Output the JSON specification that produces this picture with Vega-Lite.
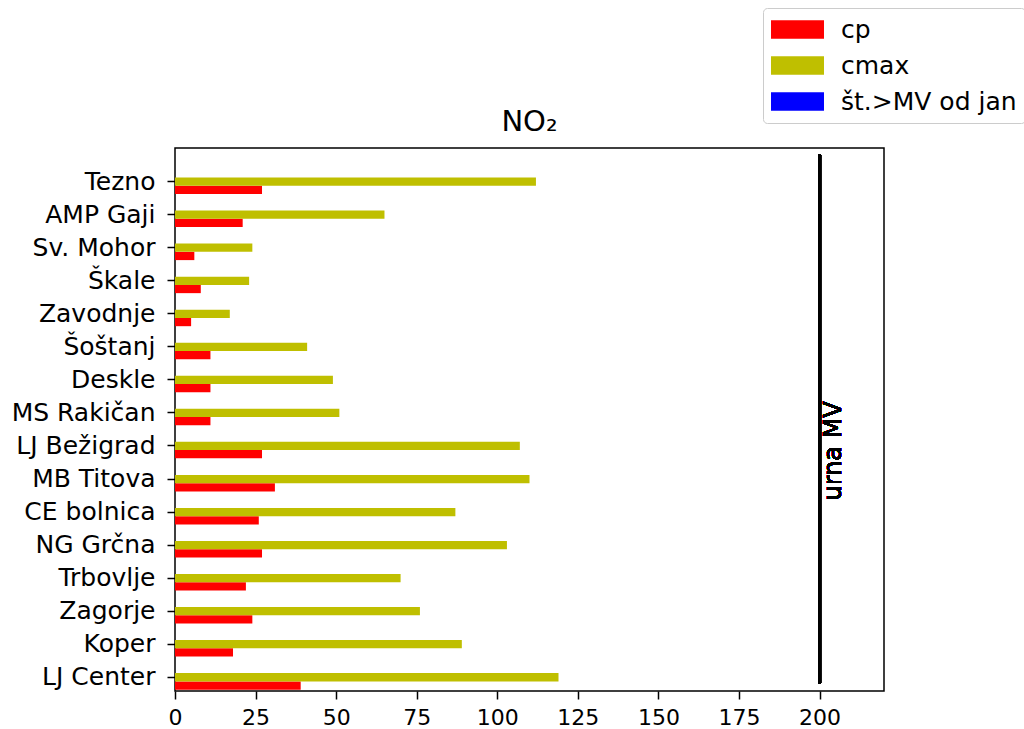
{
  "$schema": "https://vega.github.io/schema/vega-lite/v6.json",
  "autosize": "none",
  "width": 709,
  "height": 543,
  "padding": {"left": 175, "top": 148, "right": 140, "bottom": 38},
  "background": "white",
  "config": {
    "font": "DejaVu Sans",
    "view": {"stroke": "black", "strokeWidth": 1.5},
    "axis": {"domain": false, "grid": false, "tickColor": "black", "tickWidth": 1.5, "tickSize": 8, "labelColor": "black", "labelFont": "DejaVu Sans", "labelFontSize": 23, "title": null}
  },
  "title": {"text": "NO₂", "fontSize": 29, "fontWeight": "normal", "font": "DejaVu Sans", "color": "black", "baseline": "bottom", "offset": -158, "anchor": "middle"},
  "data": {"values": [
    {"station": "Tezno", "series": "cp", "value": 27},
    {"station": "Tezno", "series": "cmax", "value": 112},
    {"station": "Tezno", "series": "št.>MV od jan", "value": 0},
    {"station": "AMP Gaji", "series": "cp", "value": 21},
    {"station": "AMP Gaji", "series": "cmax", "value": 65},
    {"station": "AMP Gaji", "series": "št.>MV od jan", "value": 0},
    {"station": "Sv. Mohor", "series": "cp", "value": 6},
    {"station": "Sv. Mohor", "series": "cmax", "value": 24},
    {"station": "Sv. Mohor", "series": "št.>MV od jan", "value": 0},
    {"station": "Škale", "series": "cp", "value": 8},
    {"station": "Škale", "series": "cmax", "value": 23},
    {"station": "Škale", "series": "št.>MV od jan", "value": 0},
    {"station": "Zavodnje", "series": "cp", "value": 5},
    {"station": "Zavodnje", "series": "cmax", "value": 17},
    {"station": "Zavodnje", "series": "št.>MV od jan", "value": 0},
    {"station": "Šoštanj", "series": "cp", "value": 11},
    {"station": "Šoštanj", "series": "cmax", "value": 41},
    {"station": "Šoštanj", "series": "št.>MV od jan", "value": 0},
    {"station": "Deskle", "series": "cp", "value": 11},
    {"station": "Deskle", "series": "cmax", "value": 49},
    {"station": "Deskle", "series": "št.>MV od jan", "value": 0},
    {"station": "MS Rakičan", "series": "cp", "value": 11},
    {"station": "MS Rakičan", "series": "cmax", "value": 51},
    {"station": "MS Rakičan", "series": "št.>MV od jan", "value": 0},
    {"station": "LJ Bežigrad", "series": "cp", "value": 27},
    {"station": "LJ Bežigrad", "series": "cmax", "value": 107},
    {"station": "LJ Bežigrad", "series": "št.>MV od jan", "value": 0},
    {"station": "MB Titova", "series": "cp", "value": 31},
    {"station": "MB Titova", "series": "cmax", "value": 110},
    {"station": "MB Titova", "series": "št.>MV od jan", "value": 0},
    {"station": "CE bolnica", "series": "cp", "value": 26},
    {"station": "CE bolnica", "series": "cmax", "value": 87},
    {"station": "CE bolnica", "series": "št.>MV od jan", "value": 0},
    {"station": "NG Grčna", "series": "cp", "value": 27},
    {"station": "NG Grčna", "series": "cmax", "value": 103},
    {"station": "NG Grčna", "series": "št.>MV od jan", "value": 0},
    {"station": "Trbovlje", "series": "cp", "value": 22},
    {"station": "Trbovlje", "series": "cmax", "value": 70},
    {"station": "Trbovlje", "series": "št.>MV od jan", "value": 0},
    {"station": "Zagorje", "series": "cp", "value": 24},
    {"station": "Zagorje", "series": "cmax", "value": 76},
    {"station": "Zagorje", "series": "št.>MV od jan", "value": 0},
    {"station": "Koper", "series": "cp", "value": 18},
    {"station": "Koper", "series": "cmax", "value": 89},
    {"station": "Koper", "series": "št.>MV od jan", "value": 0},
    {"station": "LJ Center", "series": "cp", "value": 39},
    {"station": "LJ Center", "series": "cmax", "value": 119},
    {"station": "LJ Center", "series": "št.>MV od jan", "value": 0}
  ]},
  "layer": [
    {
      "mark": {"type": "bar", "opacity": 1},
      "encoding": {
        "y": {"field": "station", "type": "nominal",
          "scale": {"domain": ["Tezno", "AMP Gaji", "Sv. Mohor", "Škale", "Zavodnje", "Šoštanj", "Deskle", "MS Rakičan", "LJ Bežigrad", "MB Titova", "CE bolnica", "NG Grčna", "Trbovlje", "Zagorje", "Koper", "LJ Center"], "paddingInner": 0.25, "paddingOuter": 0.342, "align": 0.94},
          "axis": {"labelPadding": 12, "labelLimit": 300, "labelFontSize": 25}},
        "yOffset": {"field": "series", "type": "nominal", "scale": {"domain": ["št.>MV od jan", "cmax", "cp"], "paddingInner": 0, "paddingOuter": 0}},
        "x": {"field": "value", "type": "quantitative",
          "scale": {"domain": [0, 220], "nice": false, "zero": true},
          "axis": {"values": [0, 25, 50, 75, 100, 125, 150, 175, 200], "labelPadding": 8, "labelFlush": false, "labelFontSize": 22}},
        "color": {"field": "series", "type": "nominal",
          "scale": {"domain": ["cp", "cmax", "št.>MV od jan"], "range": ["#ff0000", "#bfbf00", "#0000ff"]},
          "legend": {"orient": "none", "legendX": 588, "legendY": -140, "title": null,
            "symbolType": "M-2,-0.7H2V0.7H-2Z", "symbolSize": 702, "symbolStrokeWidth": 0, "symbolOffset": 13,
            "labelFontSize": 25, "labelFont": "DejaVu Sans", "labelColor": "black", "labelOffset": 30,
            "padding": 8, "rowPadding": 9, "strokeColor": "#cccccc", "fillColor": "white", "cornerRadius": 4, "labelLimit": 400}}
      }
    },
    {
      "mark": {"type": "rule", "color": "black", "strokeWidth": 3},
      "encoding": {
        "x": {"datum": 200},
        "y": {"datum": "Tezno", "bandPosition": -0.6},
        "y2": {"datum": "LJ Center", "bandPosition": 0.74}
      }
    },
    {
      "mark": {"type": "text", "text": "urna MV", "angle": 270, "baseline": "top", "align": "center", "fontSize": 24, "font": "DejaVu Sans", "color": "black", "dy": 2},
      "encoding": {
        "x": {"datum": 200},
        "y": {"datum": "LJ Bežigrad", "bandPosition": 0.7}
      }
    }
  ]
}
